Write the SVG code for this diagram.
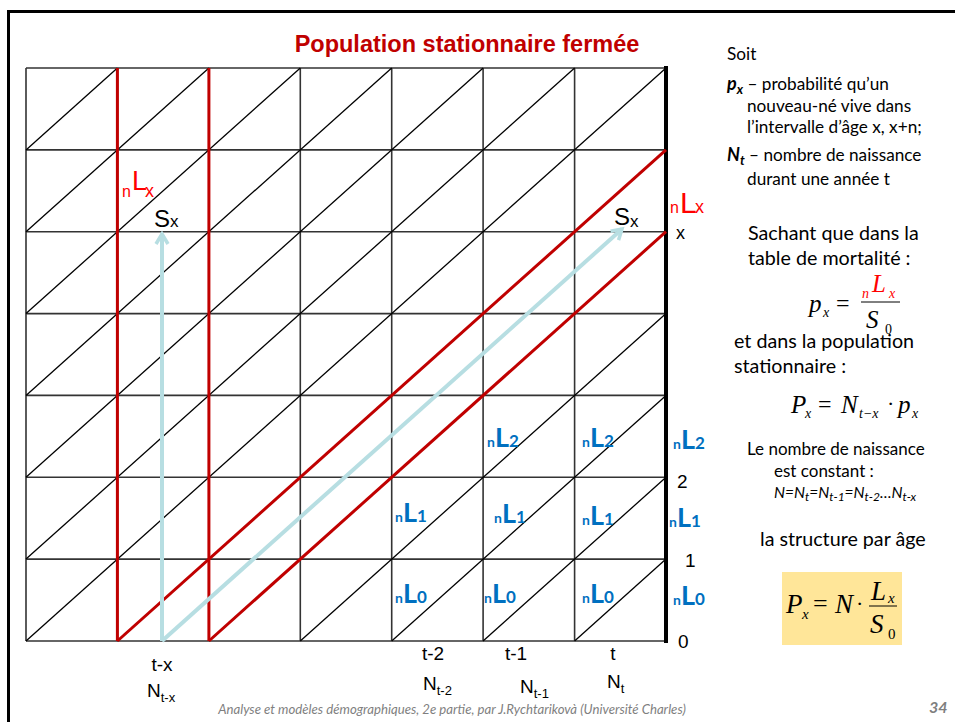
<svg xmlns="http://www.w3.org/2000/svg" width="955" height="722" viewBox="0 0 955 722">
<defs>
<style>
.g{stroke:#000;stroke-width:1.3;fill:none}
.gl{stroke:#333;stroke-width:1.6;fill:none}
.red{stroke:#c00000;stroke-width:3;fill:none}
.lb{stroke:#b7dee2;stroke-width:4;fill:none}
.ar{font-family:"Liberation Sans",Arial,sans-serif}
.ca{font-family:Lato,"Liberation Sans",sans-serif;fill:#000}
.tm{font-family:"Liberation Serif","Times New Roman",serif;font-style:italic}
.bl{font-family:Lato,"Liberation Sans",sans-serif;font-weight:bold;fill:#0070c0}
</style>
<marker id="ah" markerWidth="16" markerHeight="16" refX="12" refY="8" orient="auto" markerUnits="userSpaceOnUse">
<path d="M2,2 L12,8 L2,14" fill="none" stroke="#b7dee2" stroke-width="3.5"/>
</marker>
</defs>
<rect width="955" height="722" fill="#fff"/>
<g id="frame">
<line x1="8" y1="11.5" x2="955" y2="11.5" stroke="#000" stroke-width="3"/>
<line x1="8.5" y1="10" x2="8.5" y2="722" stroke="#000" stroke-width="3"/>
</g>
<text id="title" x="467" y="52" text-anchor="middle" class="ar" font-size="23.5" font-weight="bold" fill="#c00000">Population stationnaire fermée</text>
<g id="grid">
<g class="gl">
<line x1="26" y1="68" x2="666" y2="68"/>
<line x1="26" y1="149.9" x2="666" y2="149.9"/>
<line x1="26" y1="231.7" x2="666" y2="231.7"/>
<line x1="26" y1="313.6" x2="666" y2="313.6"/>
<line x1="26" y1="395.4" x2="666" y2="395.4"/>
<line x1="26" y1="477.3" x2="666" y2="477.3"/>
<line x1="26" y1="559.1" x2="666" y2="559.1"/>
<line x1="26" y1="641" x2="666" y2="641"/>
<line x1="26" y1="68" x2="26" y2="641"/>
<line x1="117.4" y1="68" x2="117.4" y2="641"/>
<line x1="208.9" y1="68" x2="208.9" y2="641"/>
<line x1="300.3" y1="68" x2="300.3" y2="641"/>
<line x1="391.7" y1="68" x2="391.7" y2="641"/>
<line x1="483.1" y1="68" x2="483.1" y2="641"/>
<line x1="574.6" y1="68" x2="574.6" y2="641"/>
</g>
<g class="g">
<line x1="26" y1="641" x2="666" y2="68"/>
<line x1="117.4" y1="641" x2="666" y2="149.9"/>
<line x1="208.9" y1="641" x2="666" y2="231.7"/>
<line x1="300.3" y1="641" x2="666" y2="313.6"/>
<line x1="391.7" y1="641" x2="666" y2="395.4"/>
<line x1="483.1" y1="641" x2="666" y2="477.3"/>
<line x1="574.6" y1="641" x2="666" y2="559.1"/>
<line x1="26" y1="149.9" x2="117.4" y2="68"/>
<line x1="26" y1="231.7" x2="208.9" y2="68"/>
<line x1="26" y1="313.6" x2="300.3" y2="68"/>
<line x1="26" y1="395.4" x2="391.7" y2="68"/>
<line x1="26" y1="477.3" x2="483.1" y2="68"/>
<line x1="26" y1="559.1" x2="574.6" y2="68"/>
</g>
<line x1="666" y1="66" x2="666" y2="643" stroke="#000" stroke-width="4"/>
</g>
<g id="connectors">
<line class="red" x1="117.4" y1="68" x2="117.4" y2="641"/>
<line class="red" x1="208.9" y1="68" x2="208.9" y2="641"/>
<line class="red" x1="117.4" y1="641" x2="666" y2="149.9"/>
<line class="red" x1="208.9" y1="641" x2="666" y2="231.7"/>
<line class="lb" x1="162" y1="641" x2="162" y2="234" marker-end="url(#ah)"/>
<line class="lb" x1="162" y1="641" x2="622" y2="229" marker-end="url(#ah)"/>
</g>
<g id="grid-labels" class="ar">
<g fill="#ff0000">
<text x="122" y="197" font-size="16">n</text>
<text x="132" y="190" font-size="27">L</text>
<text x="145" y="196.5" font-size="18">x</text>
<text x="670" y="213" font-size="16">n</text>
<text x="680" y="213" font-size="30">L</text>
<text x="695" y="213" font-size="18">x</text>
</g>
<text x="154" y="227" font-size="24">S<tspan font-size="17" dy="0">x</tspan></text>
<text x="614" y="225" font-size="24">S<tspan font-size="17" dy="2">x</tspan></text>
<text x="676" y="239" font-size="18">x</text>
<text x="677" y="488" font-size="19">2</text>
<text x="685" y="567" font-size="19">1</text>
<text x="678" y="648" font-size="19">0</text>
<g font-size="19" text-anchor="middle">
<text x="162" y="671">t-x</text>
<text x="433" y="660">t-2</text>
<text x="516" y="660">t-1</text>
<text x="613" y="660">t</text>
</g>
<g font-size="19">
<text x="147" y="697">N<tspan font-size="13" dy="5">t-x</tspan></text>
<text x="423" y="690">N<tspan font-size="13" dy="5">t-2</tspan></text>
<text x="520" y="693">N<tspan font-size="13" dy="5">t-1</tspan></text>
<text x="607" y="688">N<tspan font-size="13" dy="5">t</tspan></text>
</g>
</g>
<g id="blue-labels" class="bl">
<text x="487" y="447"><tspan font-size="14">n</tspan><tspan font-size="27">L</tspan><tspan font-size="17">2</tspan></text>
<text x="582" y="447"><tspan font-size="14">n</tspan><tspan font-size="27">L</tspan><tspan font-size="17">2</tspan></text>
<text x="673" y="449"><tspan font-size="14">n</tspan><tspan font-size="27">L</tspan><tspan font-size="17">2</tspan></text>
<text x="395" y="522"><tspan font-size="14">n</tspan><tspan font-size="27">L</tspan><tspan font-size="17">1</tspan></text>
<text x="494" y="523"><tspan font-size="14">n</tspan><tspan font-size="27">L</tspan><tspan font-size="17">1</tspan></text>
<text x="582" y="525"><tspan font-size="14">n</tspan><tspan font-size="27">L</tspan><tspan font-size="17">1</tspan></text>
<text x="669" y="527"><tspan font-size="14">n</tspan><tspan font-size="27">L</tspan><tspan font-size="17">1</tspan></text>
<text x="395" y="603"><tspan font-size="14">n</tspan><tspan font-size="27">L</tspan><tspan font-size="17">0</tspan></text>
<text x="484" y="603"><tspan font-size="14">n</tspan><tspan font-size="27">L</tspan><tspan font-size="17">0</tspan></text>
<text x="582" y="603"><tspan font-size="14">n</tspan><tspan font-size="27">L</tspan><tspan font-size="17">0</tspan></text>
<text x="673" y="605"><tspan font-size="14">n</tspan><tspan font-size="27">L</tspan><tspan font-size="17">0</tspan></text>
</g>
<g id="panel">
<g class="ca" font-size="17.2">
<text x="727" y="60">Soit</text>
<text x="727" y="90"><tspan font-weight="bold" font-style="italic" font-size="18">p</tspan><tspan font-weight="bold" font-style="italic" font-size="13" dy="4">x</tspan><tspan dy="-4"> – probabilité qu’un</tspan></text>
<text x="747" y="112">nouveau-né vive dans</text>
<text x="747" y="133">l’intervalle d’âge x, x+n;</text>
<text x="727" y="161"><tspan font-weight="bold" font-style="italic" font-size="18">N</tspan><tspan font-weight="bold" font-style="italic" font-size="13" dy="4">t</tspan><tspan dy="-4"> – nombre de naissance</tspan></text>
<text x="747" y="185">durant une année t</text>
</g>
<g class="ca" font-size="19.7">
<text x="748" y="240">Sachant que dans la</text>
<text x="748" y="265">table de mortalité :</text>
<text x="734" y="348">et dans la population</text>
<text x="734" y="373">stationnaire :</text>
<text x="760" y="546">la structure par âge</text>
</g>
<g class="ca" font-size="17">
<text x="747" y="455">Le nombre de naissance</text>
<text x="774" y="477">est constant :</text>
</g>
<text x="774" y="498" class="ca" font-size="15.5" font-style="italic">N=N<tspan font-size="12" dy="3">t</tspan><tspan dy="-3">=N</tspan><tspan font-size="12" dy="3">t-1</tspan><tspan dy="-3">=N</tspan><tspan font-size="12" dy="3">t-2</tspan><tspan dy="-3">…N</tspan><tspan font-size="12" dy="3">t-x</tspan></text>
<g id="formula1" class="tm">
<text x="809" y="312" font-size="25">p</text>
<text x="823" y="317" font-size="14">x</text>
<text x="836" y="311" font-size="24" font-style="normal">=</text>
<line x1="861" y1="302" x2="900" y2="302" stroke="#000" stroke-width="1"/>
<text x="862" y="298" font-size="14" fill="#ff0000">n</text>
<text x="872" y="292" font-size="25" fill="#ff0000">L</text>
<text x="889" y="298" font-size="14" fill="#ff0000">x</text>
<text x="866" y="328" font-size="25">S</text>
<text x="885" y="334" font-size="14" font-style="normal">0</text>
</g>
<g id="formula2" class="tm">
<text x="791" y="413" font-size="25">P</text>
<text x="805" y="418" font-size="14">x</text>
<text x="818" y="412" font-size="24" font-style="normal">=</text>
<text x="841" y="413" font-size="25">N</text>
<text x="859" y="418" font-size="14">t−x</text>
<text x="887" y="411" font-size="22" font-style="normal">·</text>
<text x="898" y="413" font-size="25">p</text>
<text x="912" y="418" font-size="14">x</text>
</g>
<g id="formula3">
<rect x="782" y="572" width="120" height="73" fill="#ffe699"/>
<g class="tm">
<text x="786" y="613" font-size="27">P</text>
<text x="802" y="619" font-size="15">x</text>
<text x="813" y="612" font-size="26" font-style="normal">=</text>
<text x="835" y="613" font-size="27">N</text>
<text x="856" y="611" font-size="22" font-style="normal">·</text>
<line x1="869" y1="606" x2="897" y2="606" stroke="#000" stroke-width="1"/>
<text x="871" y="600" font-size="27">L</text>
<text x="888" y="603" font-size="15">x</text>
<text x="870" y="633" font-size="27">S</text>
<text x="888" y="639" font-size="15" font-style="normal">0</text>
</g>
</g>
</g>
<g id="footer">
<text x="452" y="714" text-anchor="middle" class="ca" font-size="13.2" font-style="italic" style="fill:#7f7f7f">Analyse et modèles démographiques, 2e partie, par J.Rychtarikovà (Université Charles)</text>
<text x="929" y="713" class="ca" font-size="16" font-weight="bold" font-style="italic" style="fill:#7f7f7f">34</text>
</g>
</svg>
